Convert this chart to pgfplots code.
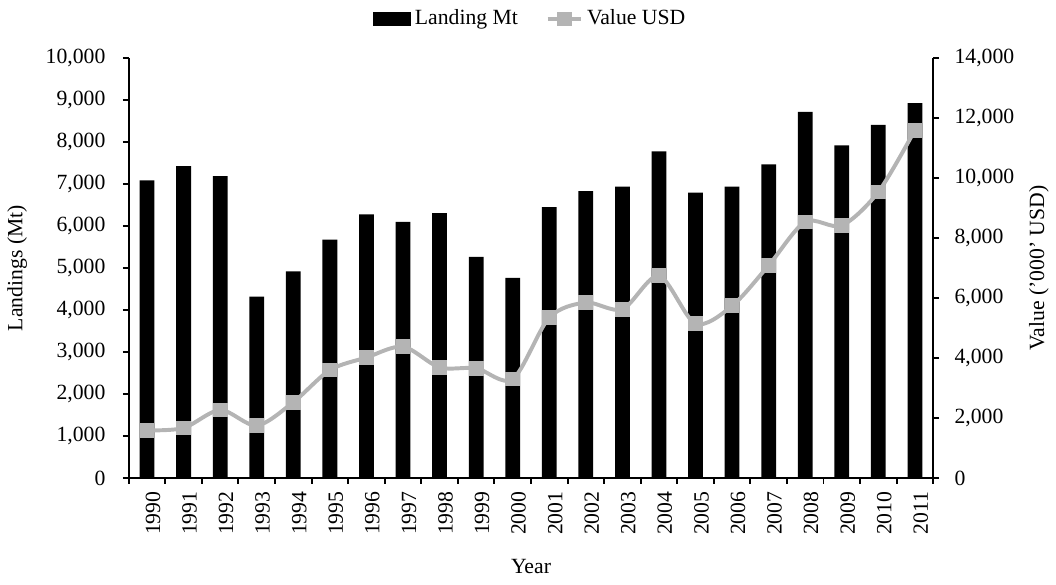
\documentclass[border=0pt]{standalone}
\usepackage{pgfplots}
\pgfplotsset{compat=1.18}
\usepackage{fontspec}
\setmainfont{Liberation Serif}
\definecolor{linegray}{RGB}{180,180,180}
\begin{document}
\fontsize{11}{13}\selectfont
\begin{tikzpicture}
\pgfplotsset{
  every axis/.append style={
    scale only axis, width=408pt, height=213pt,
    xmin=-0.5, xmax=21.5,
    tick align=outside, major tick length=3pt,
    axis line style={line width=1pt, black},
    every tick/.style={line width=1pt, black},
    tick label style={font=\fontsize{11}{13}\selectfont},
    label style={font=\fontsize{11}{13}\selectfont},
    /pgf/number format/.cd, 1000 sep={,}, assume math mode=true,
  },
}
\begin{axis}[
  axis y line*=left, axis x line*=bottom,
  ymin=0, ymax=10000, ytick={0,1000,...,10000},
  scaled y ticks=false,
  yticklabel style={xshift=-5pt},
  xtick={-0.5,0.5,...,21.5}, x tick label as interval,
  xticklabels={1990,1991,1992,1993,1994,1995,1996,1997,1998,1999,2000,2001,2002,2003,2004,2005,2006,2007,2008,2009,2010,2011},
  xticklabel style={rotate=90, anchor=east, yshift=-3pt},
  xlabel={Year}, ylabel={Landings (Mt)},
  xlabel style={yshift=-5pt},
  ylabel style={yshift=2pt},
]
\addplot[ybar, bar width=7.5pt, fill=black, draw=none] coordinates {
(0,7090) (1,7430) (2,7190) (3,4320) (4,4920) (5,5680) (6,6280) (7,6100)
(8,6310) (9,5270) (10,4770) (11,6450) (12,6830) (13,6940) (14,7780)
(15,6800) (16,6940) (17,7470) (18,8720) (19,7920) (20,8410) (21,8930)};
\end{axis}
\begin{axis}[
  axis y line*=right, axis x line=none,
  ymin=0, ymax=14000, ytick={0,2000,...,14000},
  scaled y ticks=false,
  yticklabel style={xshift=4pt},
  ylabel={Value ('000' USD)},
  legend style={at={(0.5,1.0)}, yshift=13pt, anchor=south, draw=none, fill=none,
    legend columns=2, font=\fontsize{11}{13}\selectfont,
    /tikz/every even column/.append style={column sep=12pt},
    inner sep=0pt, cells={anchor=west}},
]
\addlegendimage{legend image code/.code={\fill[black] (0pt,-3.2pt) rectangle (19pt,3.2pt);}}
\addlegendentry{Landing Mt}
\addplot[linegray, line width=2pt, smooth, mark=square*, mark size=3.5pt,
  mark options={fill=linegray, draw=linegray, line width=0pt}] coordinates {
(0,1590) (1,1670) (2,2270) (3,1750) (4,2530) (5,3600) (6,4020) (7,4380)
(8,3690) (9,3660) (10,3300) (11,5350) (12,5850) (13,5630) (14,6740)
(15,5150) (16,5740) (17,7090) (18,8540) (19,8420) (20,9540) (21,11600)};
\addlegendentry{Value USD}
\end{axis}
\path ([yshift=3pt]current bounding box.north) ([yshift=-1.5pt]current bounding box.south);
\end{tikzpicture}
\end{document}
